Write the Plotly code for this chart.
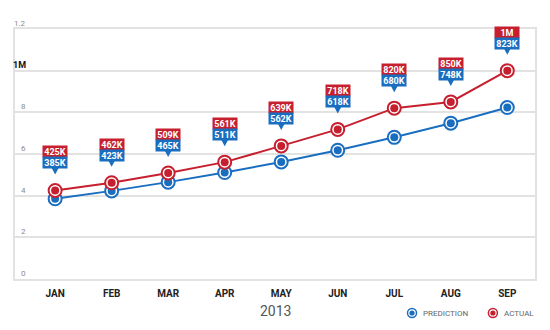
import plotly.graph_objects as go

# Monthly figures for 2013, in thousands
months = ["JAN", "FEB", "MAR", "APR", "MAY", "JUN", "JUL", "AUG", "SEP"]
prediction = [385, 423, 465, 511, 562, 618, 680, 748, 823]
actual = [425, 462, 509, 561, 639, 718, 820, 850, 1000]

y_tickvals = [0, 200, 400, 600, 800, 1000, 1200]
y_ticktext = ["0", "2", "4", "6", "8", "1M", "1.2"]

RED = "#c61f2e"
BLUE = "#1a6ec0"
GRID = "#e2e2e2"
FONT = "Roboto, 'DejaVu Sans', sans-serif"


def fmt(v):
    return "1M" if v >= 1000 else f"{v}K"


x_idx = list(range(len(months)))

fig = go.Figure()

for vals, col in ((prediction, BLUE), (actual, RED)):
    # connecting line with hollow ring markers
    fig.add_trace(go.Scatter(
        x=x_idx, y=vals, mode="lines+markers",
        line=dict(color=col, width=2),
        marker=dict(size=13, color="white", line=dict(color=col, width=2)),
        showlegend=False, hoverinfo="skip"))
    # solid centre dot inside each ring
    fig.add_trace(go.Scatter(
        x=x_idx, y=vals, mode="markers",
        marker=dict(size=8, color=col),
        showlegend=False, hoverinfo="skip"))

annotations = []
shapes = []
for i, (p, a) in enumerate(zip(prediction, actual)):
    annotations.append(dict(
        x=i, y=a, xref="x", yref="y", text=f"<b>{fmt(a)}</b>",
        showarrow=False, yshift=38.5, yanchor="middle",
        bgcolor=RED, width=24, height=11, borderpad=0,
        font=dict(family=FONT, size=9, color="white")))
    annotations.append(dict(
        x=i, y=a, xref="x", yref="y", text=f"<b>{fmt(p)}</b>",
        showarrow=False, yshift=27.5, yanchor="middle",
        bgcolor=BLUE, width=24, height=11, borderpad=0,
        font=dict(family=FONT, size=9, color="white")))
    # pointer under the callout
    shapes.append(dict(
        type="path", xref="x", yref="y",
        xsizemode="pixel", ysizemode="pixel", xanchor=i, yanchor=a,
        path="M -3.5,22.5 L 3.5,22.5 L 0,16 Z",
        fillcolor=BLUE, line=dict(width=0)))

# y tick labels, sitting just above each gridline at the left edge
for v, t in zip(y_tickvals, y_ticktext):
    major = t == "1M"
    annotations.append(dict(
        x=0.025, y=v, xref="paper", yref="y",
        text=f"<b>{t}</b>" if major else t,
        showarrow=False, xanchor="right", yanchor="middle", yshift=5.5,
        font=dict(family=FONT, size=9 if major else 8,
                  color="#111" if major else "#8a8a8a")))

# legend icons and labels
for px, col, label in ((0.7635, BLUE, "PREDICTION"), (0.919, RED, "ACTUAL")):
    shapes.append(dict(
        type="circle", xref="paper", yref="paper",
        xsizemode="pixel", ysizemode="pixel", xanchor=px, yanchor=-0.136,
        x0=-4.5, x1=4.5, y0=-4.5, y1=4.5,
        fillcolor="white", line=dict(color=col, width=1.5)))
    shapes.append(dict(
        type="circle", xref="paper", yref="paper",
        xsizemode="pixel", ysizemode="pixel", xanchor=px, yanchor=-0.136,
        x0=-2.6, x1=2.6, y0=-2.6, y1=2.6,
        fillcolor=col, line=dict(width=0)))
    annotations.append(dict(
        x=px + 0.017, y=-0.136, xref="paper", yref="paper",
        text=label, showarrow=False, xanchor="left", yanchor="middle",
        font=dict(family=FONT, size=8, color="#666")))

# year caption below the month labels
annotations.append(dict(
    x=0.5, y=-0.128, xref="paper", yref="paper", text="2013",
    showarrow=False, xanchor="center", yanchor="middle",
    font=dict(family=FONT, size=14, color="#555")))

fig.update_layout(
    width=550, height=330,
    margin=dict(l=15, r=15, t=29, b=51),
    paper_bgcolor="white", plot_bgcolor="white",
    annotations=annotations, shapes=shapes,
    showlegend=False,
    xaxis=dict(
        range=[-0.71, 8.49], tickvals=x_idx,
        ticktext=[f"<b>{m}</b>" for m in months],
        tickfont=dict(family=FONT, size=10, color="#222"),
        showgrid=False, zeroline=False,
        showline=True, linecolor=GRID, linewidth=1.5, mirror=True,
        ticks="outside", ticklen=4, tickcolor="rgba(0,0,0,0)"),
    yaxis=dict(
        range=[0, 1200], tickvals=y_tickvals, showticklabels=False,
        showgrid=True, gridcolor=GRID, gridwidth=1.5, zeroline=False,
        showline=True, linecolor=GRID, linewidth=1.5, mirror=True),
)

fig.write_html("out.html")
